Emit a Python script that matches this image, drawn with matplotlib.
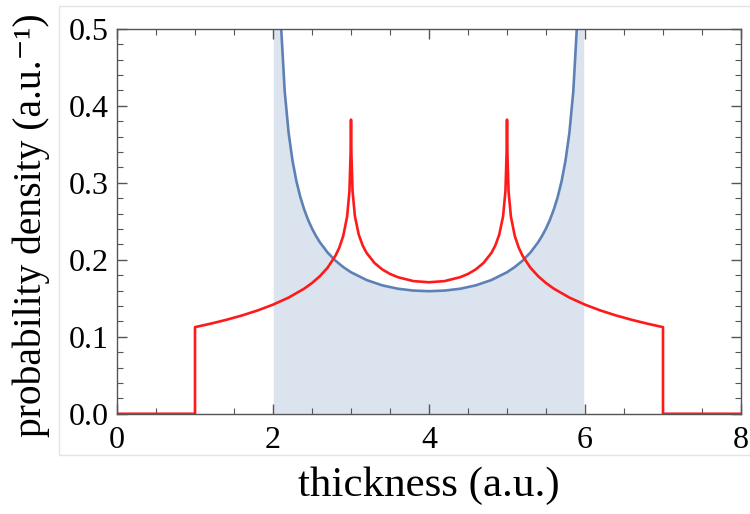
import numpy as np
import matplotlib
matplotlib.use("Agg")
import matplotlib.pyplot as plt
from matplotlib.ticker import MultipleLocator
from matplotlib.patches import Rectangle

plt.rcParams['font.family'] = ['Liberation Serif', 'DejaVu Serif']

# blue curve, support 2..6
blue_x = [2.01, 2.05, 2.1, 2.15, 2.2, 2.25, 2.3, 2.35, 2.4, 2.45, 2.5, 2.55,
          2.6, 2.7, 2.8, 2.9, 3.0, 3.2, 3.4, 3.6, 3.8, 4.0,
          4.2, 4.4, 4.6, 4.8, 5.0, 5.1, 5.2, 5.3, 5.4, 5.45, 5.5, 5.55,
          5.6, 5.65, 5.7, 5.75, 5.8, 5.85, 5.9, 5.95, 5.99]
blue_y = [1.594, 0.716, 0.5097, 0.4189, 0.3651, 0.3288, 0.3021, 0.2816, 0.2653, 0.2518, 0.2406, 0.2311,
          0.2229, 0.2094, 0.1989, 0.1906, 0.1838, 0.1737, 0.1668, 0.1624, 0.1600, 0.1592,
          0.1600, 0.1624, 0.1668, 0.1737, 0.1838, 0.1906, 0.1989, 0.2094, 0.2229, 0.2311, 0.2406, 0.2518,
          0.2653, 0.2816, 0.3021, 0.3288, 0.3651, 0.4189, 0.5097, 0.716, 1.594]

# red curve, support 1..7 with cusps at 3 and 5
red_x = [0.0, 1.0, 1.0, 1.2, 1.4, 1.6, 1.8, 2.0, 2.2, 2.4, 2.5, 2.6, 2.7, 2.8, 2.85,
         2.9, 2.95, 2.98, 2.995, 2.998, 3.0, 3.002, 3.005, 3.02, 3.05, 3.1, 3.15,
         3.2, 3.3, 3.4, 3.5, 3.6, 3.8, 4.0, 4.2, 4.4, 4.5, 4.6, 4.7, 4.8, 4.85,
         4.9, 4.95, 4.98, 4.995, 4.998, 5.0, 5.002, 5.005, 5.02, 5.05, 5.1, 5.15,
         5.2, 5.3, 5.4, 5.5, 5.6, 5.8, 6.0, 6.2, 6.4, 6.6, 6.8, 7.0, 7.0, 8.0]
red_y = [0.0, 0.0, 0.1125, 0.1170, 0.1220, 0.1276, 0.1341, 0.1417, 0.1509, 0.1625, 0.1698, 0.1786, 0.1897, 0.2051, 0.2158,
         0.2308, 0.2560, 0.2890, 0.3388, 0.3714, 0.382, 0.3716, 0.3388, 0.2892, 0.2566, 0.2324, 0.2185,
         0.2089, 0.1960, 0.1875, 0.1816, 0.1774, 0.1723, 0.1708, 0.1723, 0.1774, 0.1816, 0.1875, 0.1960, 0.2089, 0.2185,
         0.2324, 0.2566, 0.2892, 0.3388, 0.3716, 0.382, 0.3714, 0.3388, 0.2890, 0.2560, 0.2308, 0.2158,
         0.2051, 0.1897, 0.1786, 0.1698, 0.1625, 0.1509, 0.1417, 0.1341, 0.1276, 0.1220, 0.1170, 0.1125, 0.0, 0.0]

x_ticks = [0, 2, 4, 6, 8]
y_ticks = [0.0, 0.1, 0.2, 0.3, 0.4, 0.5]

fig = plt.figure(figsize=(7.5, 5.14), dpi=100)

# faint frame of the pasted image
fig.patches.append(Rectangle((0.079, 0.115), 1.0, 0.873, transform=fig.transFigure,
                             fill=False, edgecolor='#e4e4e4', lw=1.0))

ax = fig.add_axes([0.156, 0.195, 0.832, 0.749])

blue = '#5e81b5'
ax.fill_between(blue_x, 0, blue_y, color=blue, alpha=0.22, linewidth=0)
ax.plot(blue_x, blue_y, color=blue, lw=1.9)
ax.plot(red_x, red_y, color='#ff1a1a', lw=1.9)

ax.set_xlim(0, 8)
ax.set_ylim(0, 0.5)
ax.set_xticks(x_ticks)
ax.set_yticks(y_ticks)
ax.set_yticklabels(['%.1f' % v for v in y_ticks])
ax.xaxis.set_minor_locator(MultipleLocator(0.5))
ax.yaxis.set_minor_locator(MultipleLocator(0.02))
ax.tick_params(which='both', direction='in', top=True, right=True,
               color='#555555', labelsize=23)
ax.tick_params(axis='x', pad=9)
ax.tick_params(axis='y', pad=6)
ax.tick_params(which='major', length=7, width=1)
ax.tick_params(which='minor', length=4, width=0.8)
for sp in ax.spines.values():
    sp.set_color('#555555')
    sp.set_linewidth(1.0)

ax.set_xlabel('thickness (a.u.)', fontsize=31, labelpad=8)
ax.set_ylabel('probability density (a.u.\u207b\u00b9)', fontsize=28.5, labelpad=9)
ax.yaxis.set_label_coords(-0.108, 0.49)

fig.savefig('out.png', dpi=100)
